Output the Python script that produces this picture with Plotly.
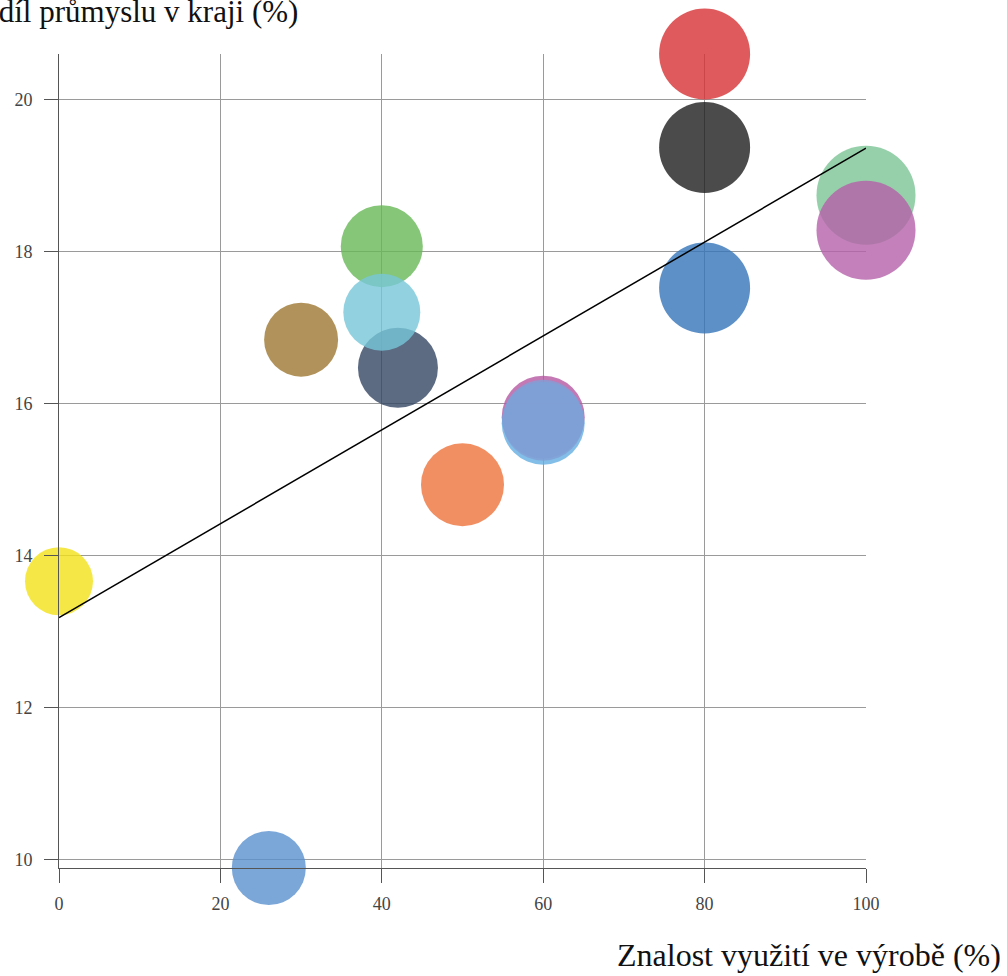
import plotly.graph_objects as go

# Data
knowledge = [0, 26, 30, 40, 42, 40, 50, 60, 60, 60, 80, 80, 80, 100, 100]
industry_share = [13.66, 9.885, 16.84, 18.07, 16.47, 17.20, 14.93, 15.82, 15.74, 15.78, 20.60, 19.37, 17.52, 18.74, 18.28]
bubble_diam = [68, 74, 74, 82, 80, 77, 83, 83, 83, 81, 91, 91, 91, 99, 99]
bubble_colors = [
    "rgb(242,226,24)", "rgb(89,144,206)", "rgb(156,119,49)", "rgb(104,184,86)",
    "rgb(51,69,99)", "rgb(119,199,216)", "rgb(238,115,59)", "rgb(181,86,161)",
    "rgb(99,174,226)", "rgb(130,159,213)", "rgb(214,49,51)", "rgb(30,30,30)",
    "rgb(51,116,184)", "rgb(124,196,149)", "rgb(181,96,169)",
]
trend_x = [0, 100]
trend_y = [13.18, 19.36]

x_ticks = [0, 20, 40, 60, 80, 100]
y_ticks = [10, 12, 14, 16, 18, 20]

fig = go.Figure()
fig.add_trace(go.Scatter(
    x=knowledge, y=industry_share, mode="markers",
    marker=dict(size=bubble_diam, sizemode="diameter", color=bubble_colors,
                opacity=0.8, line=dict(width=0)),
    cliponaxis=False, hoverinfo="x+y", showlegend=False,
))
fig.add_trace(go.Scatter(
    x=trend_x, y=trend_y, mode="lines",
    line=dict(color="black", width=1.5), cliponaxis=False, showlegend=False,
))

axis_common = dict(
    showline=True, linecolor="#555", linewidth=1,
    showgrid=True, gridcolor="#9a9a9a", gridwidth=1,
    zeroline=False, ticks="outside", ticklen=14, tickcolor="#555", tickwidth=1,
    tickfont=dict(family="Liberation Serif", size=18, color="#444"),
)
fig.update_xaxes(range=[min(knowledge), max(knowledge)], tickvals=x_ticks,
                 ticklabelstandoff=5, **axis_common)
fig.update_yaxes(range=[min(industry_share), max(industry_share)], tickvals=y_ticks,
                 ticklabelstandoff=8, **axis_common)

fig.update_layout(
    width=1007, height=976,
    margin=dict(l=59, r=141, t=54, b=108),
    plot_bgcolor="white", paper_bgcolor="white",
    font=dict(family="Liberation Serif"),
    annotations=[
        dict(text="Podíl průmyslu v kraji (%)", xref="paper", yref="paper",
             x=(300 - 59) / 807, y=(868 - 12) / 814, xanchor="right", yanchor="middle",
             showarrow=False, font=dict(family="Liberation Serif", size=31, color="#111")),
        dict(text="Znalost využití ve výrobě (%)", xref="paper", yref="paper",
             x=(1003 - 59) / 807, y=(868 - 955) / 814, xanchor="right", yanchor="middle",
             showarrow=False, font=dict(family="Liberation Serif", size=32, color="#111")),
    ],
)

fig.write_html("out.html", config={"displayModeBar": False},
               post_script="document.body.style.margin='0';document.body.style.overflow='hidden';")
